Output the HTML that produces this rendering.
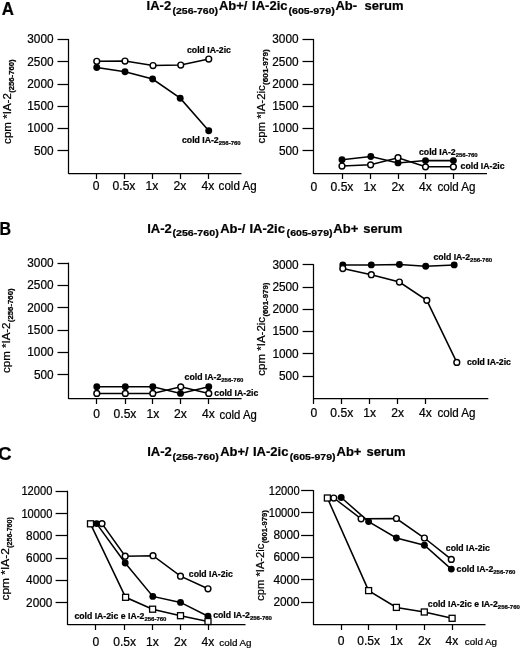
<!DOCTYPE html>
<html><head><meta charset="utf-8"><title>Figure</title>
<style>
html,body{margin:0;padding:0;background:#fff;}
body{width:520px;height:648px;overflow:hidden;font-family:"Liberation Sans",sans-serif;}
svg{display:block;filter:blur(0.32px);}
svg text{font-family:"Liberation Sans",sans-serif;fill:#000;stroke:#000;stroke-width:0.22px;}
</style></head><body>
<svg width="520" height="648" viewBox="0 0 520 648">
<rect x="0" y="0" width="520" height="648" fill="#fff"/>
<text x="1.7" y="14.5" font-size="17.6" font-weight="bold" textLength="12.2" lengthAdjust="spacingAndGlyphs">A</text>
<text x="146.6" y="9.8" font-size="13" font-weight="bold">IA-2</text>
<text x="172.5" y="13.6" font-size="9.4" font-weight="bold" textLength="45.5" lengthAdjust="spacingAndGlyphs">(256-760)</text>
<text x="218.9" y="9.8" font-size="13" font-weight="bold">Ab+/</text>
<text x="252.1" y="9.8" font-size="13" font-weight="bold">IA-2ic</text>
<text x="288.4" y="13.6" font-size="9.4" font-weight="bold" textLength="46.3" lengthAdjust="spacingAndGlyphs">(605-979)</text>
<text x="335.4" y="9.8" font-size="13" font-weight="bold">Ab-</text>
<text x="364.5" y="9.8" font-size="13" font-weight="bold">serum</text>
<line x1="68.5" y1="38.95" x2="68.5" y2="173.9" stroke="#000" stroke-width="1.25"/>
<line x1="57.5" y1="39.5" x2="68.5" y2="39.5" stroke="#000" stroke-width="1.25"/>
<text x="27.3" y="43.4" font-size="12.1" textLength="26.3" lengthAdjust="spacingAndGlyphs">3000</text>
<line x1="57.5" y1="61.5" x2="68.5" y2="61.5" stroke="#000" stroke-width="1.25"/>
<text x="27.3" y="65.65" font-size="12.1" textLength="26.3" lengthAdjust="spacingAndGlyphs">2500</text>
<line x1="57.5" y1="84.5" x2="68.5" y2="84.5" stroke="#000" stroke-width="1.25"/>
<text x="27.3" y="87.9" font-size="12.1" textLength="26.3" lengthAdjust="spacingAndGlyphs">2000</text>
<line x1="57.5" y1="106.5" x2="68.5" y2="106.5" stroke="#000" stroke-width="1.25"/>
<text x="27.3" y="110.15" font-size="12.1" textLength="26.3" lengthAdjust="spacingAndGlyphs">1500</text>
<line x1="57.5" y1="128.5" x2="68.5" y2="128.5" stroke="#000" stroke-width="1.25"/>
<text x="27.3" y="132.4" font-size="12.1" textLength="26.3" lengthAdjust="spacingAndGlyphs">1000</text>
<line x1="57.5" y1="150.5" x2="68.5" y2="150.5" stroke="#000" stroke-width="1.25"/>
<text x="33.9" y="154.65" font-size="12.1" textLength="19.7" lengthAdjust="spacingAndGlyphs">500</text>
<line x1="68.5" y1="173.5" x2="241.5" y2="173.5" stroke="#000" stroke-width="1.25"/>
<line x1="96.5" y1="173.35" x2="96.5" y2="178.95" stroke="#000" stroke-width="1.25"/>
<text x="96" y="190.2" font-size="12.1" text-anchor="middle">0</text>
<line x1="124.5" y1="173.35" x2="124.5" y2="178.95" stroke="#000" stroke-width="1.25"/>
<text x="124" y="190.2" font-size="12.1" text-anchor="middle">0.5x</text>
<line x1="152.5" y1="173.35" x2="152.5" y2="178.95" stroke="#000" stroke-width="1.25"/>
<text x="152" y="190.2" font-size="12.1" text-anchor="middle">1x</text>
<line x1="180.5" y1="173.35" x2="180.5" y2="178.95" stroke="#000" stroke-width="1.25"/>
<text x="180" y="190.2" font-size="12.1" text-anchor="middle">2x</text>
<line x1="208.5" y1="173.35" x2="208.5" y2="178.95" stroke="#000" stroke-width="1.25"/>
<text x="208" y="190.2" font-size="12.1" text-anchor="middle">4x</text>
<text x="218.6" y="190.2" font-size="12.1" textLength="38" lengthAdjust="spacingAndGlyphs">cold Ag</text>
<text transform="translate(11.2,143.9) rotate(-90)" font-size="10.6" textLength="50.8" lengthAdjust="spacingAndGlyphs">cpm *IA-2</text>
<text transform="translate(14.2,92.8) rotate(-90)" font-size="6.7" font-weight="bold" textLength="33.4" lengthAdjust="spacingAndGlyphs">(256-760)</text>
<polyline points="96.75,67.5 125,71.75 152.6,79 180.2,98.2 208.75,130.75" fill="none" stroke="#000" stroke-width="1.55"/>
<circle cx="96.75" cy="67.5" r="3.45" fill="#000"/>
<circle cx="125" cy="71.75" r="3.45" fill="#000"/>
<circle cx="152.6" cy="79" r="3.45" fill="#000"/>
<circle cx="180.2" cy="98.2" r="3.45" fill="#000"/>
<circle cx="208.75" cy="130.75" r="3.45" fill="#000"/>
<polyline points="96.75,61.25 125,61 153,65.5 180.75,65 208.75,59" fill="none" stroke="#000" stroke-width="1.55"/>
<circle cx="96.75" cy="61.25" r="2.9" fill="#fff" stroke="#000" stroke-width="1.45"/>
<circle cx="125" cy="61" r="2.9" fill="#fff" stroke="#000" stroke-width="1.45"/>
<circle cx="153" cy="65.5" r="2.9" fill="#fff" stroke="#000" stroke-width="1.45"/>
<circle cx="180.75" cy="65" r="2.9" fill="#fff" stroke="#000" stroke-width="1.45"/>
<circle cx="208.75" cy="59" r="2.9" fill="#fff" stroke="#000" stroke-width="1.45"/>
<text x="187" y="53" font-size="8.7" font-weight="bold">cold IA-2ic</text>
<text x="182" y="142.8" font-size="8.7" font-weight="bold">cold IA-2<tspan font-size="6.0" dy="1.8">256-760</tspan></text>
<line x1="313.5" y1="38.95" x2="313.5" y2="173.9" stroke="#000" stroke-width="1.25"/>
<line x1="302.5" y1="39.5" x2="313.5" y2="39.5" stroke="#000" stroke-width="1.25"/>
<text x="272.3" y="43.4" font-size="12.1" textLength="26.3" lengthAdjust="spacingAndGlyphs">3000</text>
<line x1="302.5" y1="61.5" x2="313.5" y2="61.5" stroke="#000" stroke-width="1.25"/>
<text x="272.3" y="65.65" font-size="12.1" textLength="26.3" lengthAdjust="spacingAndGlyphs">2500</text>
<line x1="302.5" y1="84.5" x2="313.5" y2="84.5" stroke="#000" stroke-width="1.25"/>
<text x="272.3" y="87.9" font-size="12.1" textLength="26.3" lengthAdjust="spacingAndGlyphs">2000</text>
<line x1="302.5" y1="106.5" x2="313.5" y2="106.5" stroke="#000" stroke-width="1.25"/>
<text x="272.3" y="110.15" font-size="12.1" textLength="26.3" lengthAdjust="spacingAndGlyphs">1500</text>
<line x1="302.5" y1="128.5" x2="313.5" y2="128.5" stroke="#000" stroke-width="1.25"/>
<text x="272.3" y="132.4" font-size="12.1" textLength="26.3" lengthAdjust="spacingAndGlyphs">1000</text>
<line x1="302.5" y1="150.5" x2="313.5" y2="150.5" stroke="#000" stroke-width="1.25"/>
<text x="278.9" y="154.65" font-size="12.1" textLength="19.7" lengthAdjust="spacingAndGlyphs">500</text>
<line x1="313.5" y1="173.5" x2="487" y2="173.5" stroke="#000" stroke-width="1.25"/>
<text x="313.8" y="190.5" font-size="12.1" text-anchor="middle">0</text>
<line x1="342.5" y1="173.35" x2="342.5" y2="178.95" stroke="#000" stroke-width="1.25"/>
<text x="342" y="190.5" font-size="12.1" text-anchor="middle">0.5x</text>
<line x1="370.5" y1="173.35" x2="370.5" y2="178.95" stroke="#000" stroke-width="1.25"/>
<text x="370" y="190.5" font-size="12.1" text-anchor="middle">1x</text>
<line x1="398.5" y1="173.35" x2="398.5" y2="178.95" stroke="#000" stroke-width="1.25"/>
<text x="398" y="190.5" font-size="12.1" text-anchor="middle">2x</text>
<line x1="425.5" y1="173.35" x2="425.5" y2="178.95" stroke="#000" stroke-width="1.25"/>
<text x="425.5" y="190.5" font-size="12.1" text-anchor="middle">4x</text>
<line x1="453.5" y1="173.35" x2="453.5" y2="178.95" stroke="#000" stroke-width="1.25"/>
<text x="437.4" y="190.5" font-size="12.1" textLength="38.2" lengthAdjust="spacingAndGlyphs">cold Ag</text>
<text transform="translate(264.9,143.5) rotate(-90)" font-size="10.6" textLength="58.2" lengthAdjust="spacingAndGlyphs">cpm *IA-2ic</text>
<text transform="translate(268.1,85) rotate(-90)" font-size="6.7" font-weight="bold" textLength="35.8" lengthAdjust="spacingAndGlyphs">(601-979)</text>
<polyline points="342,159.8 370.8,156.5 398,162.9 425.5,160.6 453.4,160.6" fill="none" stroke="#000" stroke-width="1.55"/>
<circle cx="342" cy="159.8" r="3.45" fill="#000"/>
<circle cx="370.8" cy="156.5" r="3.45" fill="#000"/>
<circle cx="398" cy="162.9" r="3.45" fill="#000"/>
<circle cx="425.5" cy="160.6" r="3.45" fill="#000"/>
<circle cx="453.4" cy="160.6" r="3.45" fill="#000"/>
<polyline points="342,166 370.6,164.8 398,157.7 425.5,166.8 453.4,166.8" fill="none" stroke="#000" stroke-width="1.55"/>
<circle cx="342" cy="166" r="2.9" fill="#fff" stroke="#000" stroke-width="1.45"/>
<circle cx="370.6" cy="164.8" r="2.9" fill="#fff" stroke="#000" stroke-width="1.45"/>
<circle cx="398" cy="157.7" r="2.9" fill="#fff" stroke="#000" stroke-width="1.45"/>
<circle cx="425.5" cy="166.8" r="2.9" fill="#fff" stroke="#000" stroke-width="1.45"/>
<circle cx="453.4" cy="166.8" r="2.9" fill="#fff" stroke="#000" stroke-width="1.45"/>
<text x="419" y="155" font-size="8.7" font-weight="bold">cold IA-2<tspan font-size="6.0" dy="1.8">256-760</tspan></text>
<text x="460.6" y="169.3" font-size="8.7" font-weight="bold">cold IA-2ic</text>
<text x="-0.4" y="234.8" font-size="17.6" font-weight="bold" textLength="11.6" lengthAdjust="spacingAndGlyphs">B</text>
<text x="147.2" y="232.6" font-size="13" font-weight="bold">IA-2</text>
<text x="172.4" y="236.4" font-size="9.4" font-weight="bold" textLength="46.3" lengthAdjust="spacingAndGlyphs">(256-760)</text>
<text x="220.2" y="232.6" font-size="13" font-weight="bold">Ab-/</text>
<text x="249.5" y="232.6" font-size="13" font-weight="bold">IA-2ic</text>
<text x="286.6" y="236.4" font-size="9.4" font-weight="bold" textLength="46" lengthAdjust="spacingAndGlyphs">(605-979)</text>
<text x="333.3" y="232.6" font-size="13" font-weight="bold">Ab+</text>
<text x="363.2" y="232.6" font-size="13" font-weight="bold">serum</text>
<line x1="68.5" y1="262.65" x2="68.5" y2="398.95" stroke="#000" stroke-width="1.25"/>
<line x1="57.5" y1="263.5" x2="68.5" y2="263.5" stroke="#000" stroke-width="1.25"/>
<text x="27.3" y="267.1" font-size="12.1" textLength="26.3" lengthAdjust="spacingAndGlyphs">3000</text>
<line x1="57.5" y1="285.5" x2="68.5" y2="285.5" stroke="#000" stroke-width="1.25"/>
<text x="27.3" y="289.4" font-size="12.1" textLength="26.3" lengthAdjust="spacingAndGlyphs">2500</text>
<line x1="57.5" y1="307.5" x2="68.5" y2="307.5" stroke="#000" stroke-width="1.25"/>
<text x="27.3" y="311.7" font-size="12.1" textLength="26.3" lengthAdjust="spacingAndGlyphs">2000</text>
<line x1="57.5" y1="330.5" x2="68.5" y2="330.5" stroke="#000" stroke-width="1.25"/>
<text x="27.3" y="334" font-size="12.1" textLength="26.3" lengthAdjust="spacingAndGlyphs">1500</text>
<line x1="57.5" y1="352.5" x2="68.5" y2="352.5" stroke="#000" stroke-width="1.25"/>
<text x="27.3" y="356.3" font-size="12.1" textLength="26.3" lengthAdjust="spacingAndGlyphs">1000</text>
<line x1="57.5" y1="374.5" x2="68.5" y2="374.5" stroke="#000" stroke-width="1.25"/>
<text x="33.9" y="378.6" font-size="12.1" textLength="19.7" lengthAdjust="spacingAndGlyphs">500</text>
<line x1="68.5" y1="398.5" x2="241.6" y2="398.5" stroke="#000" stroke-width="1.25"/>
<line x1="96.5" y1="398.4" x2="96.5" y2="404" stroke="#000" stroke-width="1.25"/>
<text x="96.5" y="418.4" font-size="12.1" text-anchor="middle">0</text>
<line x1="125.5" y1="398.4" x2="125.5" y2="404" stroke="#000" stroke-width="1.25"/>
<text x="125" y="418.4" font-size="12.1" text-anchor="middle">0.5x</text>
<line x1="152.5" y1="398.4" x2="152.5" y2="404" stroke="#000" stroke-width="1.25"/>
<text x="152.8" y="418.4" font-size="12.1" text-anchor="middle">1x</text>
<line x1="180.5" y1="398.4" x2="180.5" y2="404" stroke="#000" stroke-width="1.25"/>
<text x="180.5" y="418.4" font-size="12.1" text-anchor="middle">2x</text>
<line x1="208.5" y1="398.4" x2="208.5" y2="404" stroke="#000" stroke-width="1.25"/>
<text x="208.5" y="418.4" font-size="12.1" text-anchor="middle">4x</text>
<text x="219.6" y="418.6" font-size="12.1" textLength="37.2" lengthAdjust="spacingAndGlyphs">cold Ag</text>
<text transform="translate(9.9,372.9) rotate(-90)" font-size="10.6" textLength="50.4" lengthAdjust="spacingAndGlyphs">cpm *IA-2</text>
<text transform="translate(12.7,322.2) rotate(-90)" font-size="6.7" font-weight="bold" textLength="33.8" lengthAdjust="spacingAndGlyphs">(256-760)</text>
<polyline points="96.8,386.8 125.3,386.8 152.8,386.8 180.5,393.4 208.75,386.8" fill="none" stroke="#000" stroke-width="1.55"/>
<circle cx="96.8" cy="386.8" r="3.45" fill="#000"/>
<circle cx="125.3" cy="386.8" r="3.45" fill="#000"/>
<circle cx="152.8" cy="386.8" r="3.45" fill="#000"/>
<circle cx="180.5" cy="393.4" r="3.45" fill="#000"/>
<circle cx="208.75" cy="386.8" r="3.45" fill="#000"/>
<polyline points="96.8,393.4 125.3,393.4 152.8,393.4 180.75,386.8 208.75,393.4" fill="none" stroke="#000" stroke-width="1.55"/>
<circle cx="96.8" cy="393.4" r="2.9" fill="#fff" stroke="#000" stroke-width="1.45"/>
<circle cx="125.3" cy="393.4" r="2.9" fill="#fff" stroke="#000" stroke-width="1.45"/>
<circle cx="152.8" cy="393.4" r="2.9" fill="#fff" stroke="#000" stroke-width="1.45"/>
<circle cx="180.75" cy="386.8" r="2.9" fill="#fff" stroke="#000" stroke-width="1.45"/>
<circle cx="208.75" cy="393.4" r="2.9" fill="#fff" stroke="#000" stroke-width="1.45"/>
<text x="184.6" y="379.8" font-size="8.7" font-weight="bold">cold IA-2<tspan font-size="6.0" dy="1.8">256-760</tspan></text>
<text x="214.3" y="395.8" font-size="8.7" font-weight="bold">cold IA-2ic</text>
<line x1="313.5" y1="264.2" x2="313.5" y2="403.95" stroke="#000" stroke-width="1.25"/>
<line x1="302.6" y1="264.5" x2="313.6" y2="264.5" stroke="#000" stroke-width="1.25"/>
<text x="272.4" y="268.65" font-size="12.1" textLength="26.3" lengthAdjust="spacingAndGlyphs">3000</text>
<line x1="302.6" y1="287.5" x2="313.6" y2="287.5" stroke="#000" stroke-width="1.25"/>
<text x="272.4" y="290.9" font-size="12.1" textLength="26.3" lengthAdjust="spacingAndGlyphs">2500</text>
<line x1="302.6" y1="309.5" x2="313.6" y2="309.5" stroke="#000" stroke-width="1.25"/>
<text x="272.4" y="313.15" font-size="12.1" textLength="26.3" lengthAdjust="spacingAndGlyphs">2000</text>
<line x1="302.6" y1="331.5" x2="313.6" y2="331.5" stroke="#000" stroke-width="1.25"/>
<text x="272.4" y="335.4" font-size="12.1" textLength="26.3" lengthAdjust="spacingAndGlyphs">1500</text>
<line x1="302.6" y1="353.5" x2="313.6" y2="353.5" stroke="#000" stroke-width="1.25"/>
<text x="272.4" y="357.65" font-size="12.1" textLength="26.3" lengthAdjust="spacingAndGlyphs">1000</text>
<line x1="302.6" y1="376.5" x2="313.6" y2="376.5" stroke="#000" stroke-width="1.25"/>
<text x="279" y="379.9" font-size="12.1" textLength="19.7" lengthAdjust="spacingAndGlyphs">500</text>
<line x1="313.6" y1="398.5" x2="488.3" y2="398.5" stroke="#000" stroke-width="1.25"/>
<text x="313.8" y="416.5" font-size="12.1" text-anchor="middle">0</text>
<line x1="341.5" y1="398.4" x2="341.5" y2="404" stroke="#000" stroke-width="1.25"/>
<text x="341.8" y="416.5" font-size="12.1" text-anchor="middle">0.5x</text>
<line x1="369.5" y1="398.4" x2="369.5" y2="404" stroke="#000" stroke-width="1.25"/>
<text x="369.6" y="416.5" font-size="12.1" text-anchor="middle">1x</text>
<line x1="397.5" y1="398.4" x2="397.5" y2="404" stroke="#000" stroke-width="1.25"/>
<text x="397.6" y="416.5" font-size="12.1" text-anchor="middle">2x</text>
<line x1="425.5" y1="398.4" x2="425.5" y2="404" stroke="#000" stroke-width="1.25"/>
<text x="425.5" y="416.5" font-size="12.1" text-anchor="middle">4x</text>
<text x="437.4" y="416.5" font-size="12.1" textLength="38.2" lengthAdjust="spacingAndGlyphs">cold Ag</text>
<text transform="translate(264.9,375.7) rotate(-90)" font-size="10.6" textLength="58.8" lengthAdjust="spacingAndGlyphs">cpm *IA-2ic</text>
<text transform="translate(267.9,316.6) rotate(-90)" font-size="6.7" font-weight="bold" textLength="34" lengthAdjust="spacingAndGlyphs">(601-979)</text>
<polyline points="342.8,264.9 371.3,264.9 399.4,264.5 425.7,266.3 454.2,264.9" fill="none" stroke="#000" stroke-width="1.55"/>
<circle cx="342.8" cy="264.9" r="3.45" fill="#000"/>
<circle cx="371.3" cy="264.9" r="3.45" fill="#000"/>
<circle cx="399.4" cy="264.5" r="3.45" fill="#000"/>
<circle cx="425.7" cy="266.3" r="3.45" fill="#000"/>
<circle cx="454.2" cy="264.9" r="3.45" fill="#000"/>
<polyline points="342.8,268.5 371.3,274.7 399.4,282 426.8,300.3 456.8,362.4" fill="none" stroke="#000" stroke-width="1.55"/>
<circle cx="342.8" cy="268.5" r="2.9" fill="#fff" stroke="#000" stroke-width="1.45"/>
<circle cx="371.3" cy="274.7" r="2.9" fill="#fff" stroke="#000" stroke-width="1.45"/>
<circle cx="399.4" cy="282" r="2.9" fill="#fff" stroke="#000" stroke-width="1.45"/>
<circle cx="426.8" cy="300.3" r="2.9" fill="#fff" stroke="#000" stroke-width="1.45"/>
<circle cx="456.8" cy="362.4" r="2.9" fill="#fff" stroke="#000" stroke-width="1.45"/>
<text x="433.4" y="260.2" font-size="8.7" font-weight="bold">cold IA-2<tspan font-size="6.0" dy="1.8">256-760</tspan></text>
<text x="467" y="365.3" font-size="8.7" font-weight="bold">cold IA-2ic</text>
<text x="-1.9" y="459.5" font-size="17.6" font-weight="bold" textLength="13.6" lengthAdjust="spacingAndGlyphs">C</text>
<text x="147.2" y="456.4" font-size="13" font-weight="bold">IA-2</text>
<text x="172.4" y="460.2" font-size="9.4" font-weight="bold" textLength="46.3" lengthAdjust="spacingAndGlyphs">(256-760)</text>
<text x="220.2" y="456.4" font-size="13" font-weight="bold">Ab+/</text>
<text x="253" y="456.4" font-size="13" font-weight="bold">IA-2ic</text>
<text x="289.8" y="460.2" font-size="9.4" font-weight="bold" textLength="45.8" lengthAdjust="spacingAndGlyphs">(605-979)</text>
<text x="336.5" y="456.4" font-size="13" font-weight="bold">Ab+</text>
<text x="366.6" y="456.4" font-size="13" font-weight="bold">serum</text>
<line x1="67.5" y1="490.75" x2="67.5" y2="624.95" stroke="#000" stroke-width="1.25"/>
<line x1="55.6" y1="491.5" x2="67.6" y2="491.5" stroke="#000" stroke-width="1.25"/>
<text x="21.4" y="495.2" font-size="12.1" textLength="31" lengthAdjust="spacingAndGlyphs">12000</text>
<line x1="55.6" y1="513.5" x2="67.6" y2="513.5" stroke="#000" stroke-width="1.25"/>
<text x="21.4" y="517.5" font-size="12.1" textLength="31" lengthAdjust="spacingAndGlyphs">10000</text>
<line x1="55.6" y1="535.5" x2="67.6" y2="535.5" stroke="#000" stroke-width="1.25"/>
<text x="26.1" y="539.8" font-size="12.1" textLength="26.3" lengthAdjust="spacingAndGlyphs">8000</text>
<line x1="55.6" y1="558.5" x2="67.6" y2="558.5" stroke="#000" stroke-width="1.25"/>
<text x="26.1" y="562.1" font-size="12.1" textLength="26.3" lengthAdjust="spacingAndGlyphs">6000</text>
<line x1="55.6" y1="580.5" x2="67.6" y2="580.5" stroke="#000" stroke-width="1.25"/>
<text x="26.1" y="584.4" font-size="12.1" textLength="26.3" lengthAdjust="spacingAndGlyphs">4000</text>
<line x1="55.6" y1="602.5" x2="67.6" y2="602.5" stroke="#000" stroke-width="1.25"/>
<text x="26.1" y="606.7" font-size="12.1" textLength="26.3" lengthAdjust="spacingAndGlyphs">2000</text>
<line x1="67.6" y1="624.5" x2="245.5" y2="624.5" stroke="#000" stroke-width="1.25"/>
<line x1="95.5" y1="624.4" x2="95.5" y2="630" stroke="#000" stroke-width="1.25"/>
<text x="95.8" y="645.7" font-size="12.1" text-anchor="middle">0</text>
<line x1="124.5" y1="624.4" x2="124.5" y2="630" stroke="#000" stroke-width="1.25"/>
<text x="124.6" y="645.7" font-size="12.1" text-anchor="middle">0.5x</text>
<line x1="152.5" y1="624.4" x2="152.5" y2="630" stroke="#000" stroke-width="1.25"/>
<text x="152.3" y="645.7" font-size="12.1" text-anchor="middle">1x</text>
<line x1="180.5" y1="624.4" x2="180.5" y2="630" stroke="#000" stroke-width="1.25"/>
<text x="180.4" y="645.7" font-size="12.1" text-anchor="middle">2x</text>
<line x1="208.5" y1="624.4" x2="208.5" y2="630" stroke="#000" stroke-width="1.25"/>
<text x="208" y="645.7" font-size="12.1" text-anchor="middle">4x</text>
<text x="219.3" y="645.7" font-size="9.5" textLength="32.3" lengthAdjust="spacingAndGlyphs">cold Ag</text>
<text transform="translate(9.2,600.5) rotate(-90)" font-size="10.6" textLength="52.4" lengthAdjust="spacingAndGlyphs">cpm *IA-2</text>
<text transform="translate(12.2,547.8) rotate(-90)" font-size="6.5" font-weight="bold" textLength="30.6" lengthAdjust="spacingAndGlyphs">(256-760)</text>
<polyline points="96.6,523.6 125.2,563 152.8,596.4 180.5,602.4 208,616.2" fill="none" stroke="#000" stroke-width="1.55"/>
<circle cx="96.6" cy="523.6" r="3.45" fill="#000"/>
<circle cx="125.2" cy="563" r="3.45" fill="#000"/>
<circle cx="152.8" cy="596.4" r="3.45" fill="#000"/>
<circle cx="180.5" cy="602.4" r="3.45" fill="#000"/>
<circle cx="208" cy="616.2" r="3.45" fill="#000"/>
<polyline points="90.5,523.8 125.6,597.3 152.6,609.2 180.5,615.7 208,621.5" fill="none" stroke="#000" stroke-width="1.55"/>
<rect x="87.5" y="520.8" width="6.0" height="6.0" fill="#fff" stroke="#000" stroke-width="1.3"/>
<rect x="122.6" y="594.3" width="6.0" height="6.0" fill="#fff" stroke="#000" stroke-width="1.3"/>
<rect x="149.6" y="606.2" width="6.0" height="6.0" fill="#fff" stroke="#000" stroke-width="1.3"/>
<rect x="177.5" y="612.7" width="6.0" height="6.0" fill="#fff" stroke="#000" stroke-width="1.3"/>
<rect x="205" y="618.5" width="6.0" height="6.0" fill="#fff" stroke="#000" stroke-width="1.3"/>
<polyline points="102,523.6 125.2,556.2 153,555.7 180.5,576.2 208,588.8" fill="none" stroke="#000" stroke-width="1.55"/>
<circle cx="102" cy="523.6" r="2.9" fill="#fff" stroke="#000" stroke-width="1.45"/>
<circle cx="125.2" cy="556.2" r="2.9" fill="#fff" stroke="#000" stroke-width="1.45"/>
<circle cx="153" cy="555.7" r="2.9" fill="#fff" stroke="#000" stroke-width="1.45"/>
<circle cx="180.5" cy="576.2" r="2.9" fill="#fff" stroke="#000" stroke-width="1.45"/>
<circle cx="208" cy="588.8" r="2.9" fill="#fff" stroke="#000" stroke-width="1.45"/>
<text x="188.8" y="577.2" font-size="8.7" font-weight="bold">cold IA-2ic</text>
<text x="213.2" y="618.3" font-size="8.7" font-weight="bold">cold IA-2<tspan font-size="6.0" dy="1.8">256-760</tspan></text>
<text x="74.4" y="619.4" font-size="8.7" font-weight="bold">cold IA-2ic e IA-2<tspan font-size="6.0" dy="1.8">256-760</tspan></text>
<line x1="313.5" y1="490.05" x2="313.5" y2="624.95" stroke="#000" stroke-width="1.25"/>
<line x1="301.1" y1="490.5" x2="313.1" y2="490.5" stroke="#000" stroke-width="1.25"/>
<text x="268.7" y="494.5" font-size="12.1" textLength="31" lengthAdjust="spacingAndGlyphs">12000</text>
<line x1="301.1" y1="512.5" x2="313.1" y2="512.5" stroke="#000" stroke-width="1.25"/>
<text x="268.7" y="516.8" font-size="12.1" textLength="31" lengthAdjust="spacingAndGlyphs">10000</text>
<line x1="301.1" y1="535.5" x2="313.1" y2="535.5" stroke="#000" stroke-width="1.25"/>
<text x="273.4" y="539.1" font-size="12.1" textLength="26.3" lengthAdjust="spacingAndGlyphs">8000</text>
<line x1="301.1" y1="557.5" x2="313.1" y2="557.5" stroke="#000" stroke-width="1.25"/>
<text x="273.4" y="561.4" font-size="12.1" textLength="26.3" lengthAdjust="spacingAndGlyphs">6000</text>
<line x1="301.1" y1="579.5" x2="313.1" y2="579.5" stroke="#000" stroke-width="1.25"/>
<text x="273.4" y="583.7" font-size="12.1" textLength="26.3" lengthAdjust="spacingAndGlyphs">4000</text>
<line x1="301.1" y1="602.5" x2="313.1" y2="602.5" stroke="#000" stroke-width="1.25"/>
<text x="273.4" y="606" font-size="12.1" textLength="26.3" lengthAdjust="spacingAndGlyphs">2000</text>
<line x1="313.1" y1="624.5" x2="485.5" y2="624.5" stroke="#000" stroke-width="1.25"/>
<line x1="341.5" y1="624.4" x2="341.5" y2="630" stroke="#000" stroke-width="1.25"/>
<text x="341" y="644.7" font-size="12.1" text-anchor="middle">0</text>
<line x1="368.5" y1="624.4" x2="368.5" y2="630" stroke="#000" stroke-width="1.25"/>
<text x="368.6" y="644.7" font-size="12.1" text-anchor="middle">0.5x</text>
<line x1="396.5" y1="624.4" x2="396.5" y2="630" stroke="#000" stroke-width="1.25"/>
<text x="396.4" y="644.7" font-size="12.1" text-anchor="middle">1x</text>
<line x1="424.5" y1="624.4" x2="424.5" y2="630" stroke="#000" stroke-width="1.25"/>
<text x="424.3" y="644.7" font-size="12.1" text-anchor="middle">2x</text>
<line x1="452.5" y1="624.4" x2="452.5" y2="630" stroke="#000" stroke-width="1.25"/>
<text x="452" y="644.7" font-size="12.1" text-anchor="middle">4x</text>
<text x="464.8" y="644.7" font-size="9.5" textLength="32.3" lengthAdjust="spacingAndGlyphs">cold Ag</text>
<text transform="translate(264.2,600.8) rotate(-90)" font-size="10.6" textLength="57.2" lengthAdjust="spacingAndGlyphs">cpm *IA-2ic</text>
<text transform="translate(267.4,543.3) rotate(-90)" font-size="6.7" font-weight="bold" textLength="33.2" lengthAdjust="spacingAndGlyphs">(601-979)</text>
<polyline points="341.2,497.5 368.6,521.6 396.4,538 424.4,545.2 451.3,569.1" fill="none" stroke="#000" stroke-width="1.55"/>
<circle cx="341.2" cy="497.5" r="3.45" fill="#000"/>
<circle cx="368.6" cy="521.6" r="3.45" fill="#000"/>
<circle cx="396.4" cy="538" r="3.45" fill="#000"/>
<circle cx="424.4" cy="545.2" r="3.45" fill="#000"/>
<circle cx="451.3" cy="569.1" r="3.45" fill="#000"/>
<polyline points="327.4,498 368.6,590.6 396.4,607.4 424.3,612 452.1,618.3" fill="none" stroke="#000" stroke-width="1.55"/>
<rect x="324.4" y="495" width="6.0" height="6.0" fill="#fff" stroke="#000" stroke-width="1.3"/>
<rect x="365.6" y="587.6" width="6.0" height="6.0" fill="#fff" stroke="#000" stroke-width="1.3"/>
<rect x="393.4" y="604.4" width="6.0" height="6.0" fill="#fff" stroke="#000" stroke-width="1.3"/>
<rect x="421.3" y="609" width="6.0" height="6.0" fill="#fff" stroke="#000" stroke-width="1.3"/>
<rect x="449.1" y="615.3" width="6.0" height="6.0" fill="#fff" stroke="#000" stroke-width="1.3"/>
<polyline points="333.8,498 361.1,518.8 396.4,518.5 424.4,538 451.3,559.4" fill="none" stroke="#000" stroke-width="1.55"/>
<circle cx="333.8" cy="498" r="2.9" fill="#fff" stroke="#000" stroke-width="1.45"/>
<circle cx="361.1" cy="518.8" r="2.9" fill="#fff" stroke="#000" stroke-width="1.45"/>
<circle cx="396.4" cy="518.5" r="2.9" fill="#fff" stroke="#000" stroke-width="1.45"/>
<circle cx="424.4" cy="538" r="2.9" fill="#fff" stroke="#000" stroke-width="1.45"/>
<circle cx="451.3" cy="559.4" r="2.9" fill="#fff" stroke="#000" stroke-width="1.45"/>
<text x="445.8" y="551" font-size="8.7" font-weight="bold">cold IA-2ic</text>
<text x="456.6" y="572" font-size="8.7" font-weight="bold">cold IA-2<tspan font-size="6.0" dy="1.8">256-760</tspan></text>
<text x="427.8" y="607.3" font-size="8.7" font-weight="bold">cold IA-2ic e IA-2<tspan font-size="6.0" dy="1.8">256-760</tspan></text>
</svg>
</body></html>
